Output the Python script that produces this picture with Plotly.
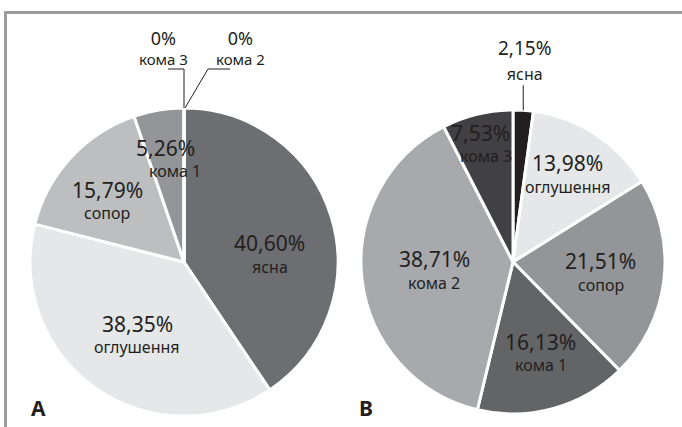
import math
import plotly.graph_objects as go

W, H = 682, 427

# ---- data ----
states_a = ["ясна", "оглушення", "сопор", "кома 1", "кома 3", "кома 2"]
values_a = [40.60, 38.35, 15.79, 5.26, 0.0, 0.0]
states_b = ["ясна", "оглушення", "сопор", "кома 1", "кома 2", "кома 3"]
values_b = [2.15, 13.98, 21.51, 16.13, 38.71, 7.53]
panel_letters = ["A", "B"]

# ---- styles ----
colors_a = ["#6d6e71", "#e6e7e8", "#bcbec0", "#939598", "#939598", "#939598"]
colors_b = ["#231f20", "#e6e7e8", "#939598", "#636466", "#a7a9ac", "#414042"]
TXT = "#231f20"
FONT = "Noto Sans"

# pie geometry in pixels (centre x, centre y, radius)
geo_a = (184, 262, 154)
geo_b = (513, 262, 152)

# inside-label placement: radial fraction, angle nudge (deg), name x-shift (px); None = outside
place_a = [(0.56, 12.2, 0), (0.566, -2.6, 0), (0.636, -4.4, 0), (0.672, 1.7, 5), None, None]
place_b = [None, (0.677, -0.6, 0), (0.583, 0.3, 0), (0.63, -1.5, 0), (0.523, 0.2, 0), (0.797, -0.6, 3)]
# outside labels: text-block offset from slice edge, line font size, leader path offsets
outside_a = {
    4: dict(text=(-21, -61), base=15, path=[(0, 0), (0, -39), (-16, -39)]),
    5: dict(text=(56, -61), base=15, path=[(1, 0), (24, -39), (46, -39)]),
}
outside_b = {
    0: dict(text=(2, -50), base=19, path=[(0, 0), (0, -25)]),
}


def px(x):
    return x / W


def py(y):
    return 1 - y / H


def fmt(v):
    if v == 0:
        return "0%"
    return f"{v:.2f}%".replace(".", ",")


fig = go.Figure()


def note(x, y, text, size, bold=False):
    fig.add_annotation(x=px(x), y=py(y), xref="paper", yref="paper",
                       xanchor="center", yanchor="middle",
                       text=f"<b>{text}</b>" if bold else text, showarrow=False,
                       font=dict(family=FONT, size=size, color=TXT))


def add_pie(values, states, colors, geo):
    cx, cy, r = geo
    fig.add_trace(go.Pie(
        values=values, labels=states, sort=False, direction="clockwise",
        rotation=0, marker=dict(colors=colors, line=dict(color="white", width=3)),
        textinfo="none", hoverinfo="skip", showlegend=False,
        domain=dict(x=[px(cx - r), px(cx + r)], y=[py(cy + r), py(cy - r)]),
    ))


def add_labels(values, states, geo, place, outside):
    cx, cy, r = geo
    total = sum(values)
    cum = 0.0
    for i, (v, s) in enumerate(zip(values, states)):
        start = cum / total * 360
        cum += v
        end = cum / total * 360
        mid = (start + end) / 2
        if place[i] is not None:
            k, d, sx = place[i]
            th = math.radians(mid + d)
            x = cx + k * r * math.sin(th)
            y = cy - k * r * math.cos(th)
            note(x - sx, y - 11.75, fmt(v), 21)
            note(x + sx, y + 11.75, s, 16)
        else:
            o = outside[i]
            th = math.radians(mid)
            ex = cx + r * math.sin(th)
            ey = cy - r * math.cos(th)
            tx, ty = ex + o["text"][0], ey + o["text"][1]
            pct_size = 18 if v == 0 else 19
            lab_size = 15 if v == 0 else 16
            txt = (f"<span style='font-size:{pct_size}px'>{fmt(v)}</span><br>"
                   f"<span style='font-size:{lab_size}px'>{s}</span>")
            note(tx, ty, txt, o["base"])
            pts = [(ex + a, ey + b) for a, b in o["path"]]
            path = "M " + " L ".join(f"{px(a)},{py(b)}" for a, b in pts)
            fig.add_shape(type="path", path=path, xref="paper", yref="paper",
                          line=dict(color=TXT, width=1))


add_pie(values_a, states_a, colors_a, geo_a)
add_pie(values_b, states_b, colors_b, geo_b)
add_labels(values_a, states_a, geo_a, place_a, outside_a)
add_labels(values_b, states_b, geo_b, place_b, outside_b)

# panel letters
for letter, (lx, ly) in zip(panel_letters, [(38, 408), (366, 408)]):
    note(lx, ly, letter, 21, bold=True)

# frame (top and left edges visible)
fig.add_shape(type="line", xref="paper", yref="paper", x0=px(4), x1=px(W), y0=py(12.5), y1=py(12.5),
              line=dict(color="#9d9d9d", width=3))
fig.add_shape(type="line", xref="paper", yref="paper", x0=px(5.5), x1=px(5.5), y0=py(11), y1=py(H),
              line=dict(color="#9d9d9d", width=3))

fig.update_layout(width=W, height=H, margin=dict(l=0, r=0, t=0, b=0),
                  paper_bgcolor="white", plot_bgcolor="white")
fig.write_html("out.html")
